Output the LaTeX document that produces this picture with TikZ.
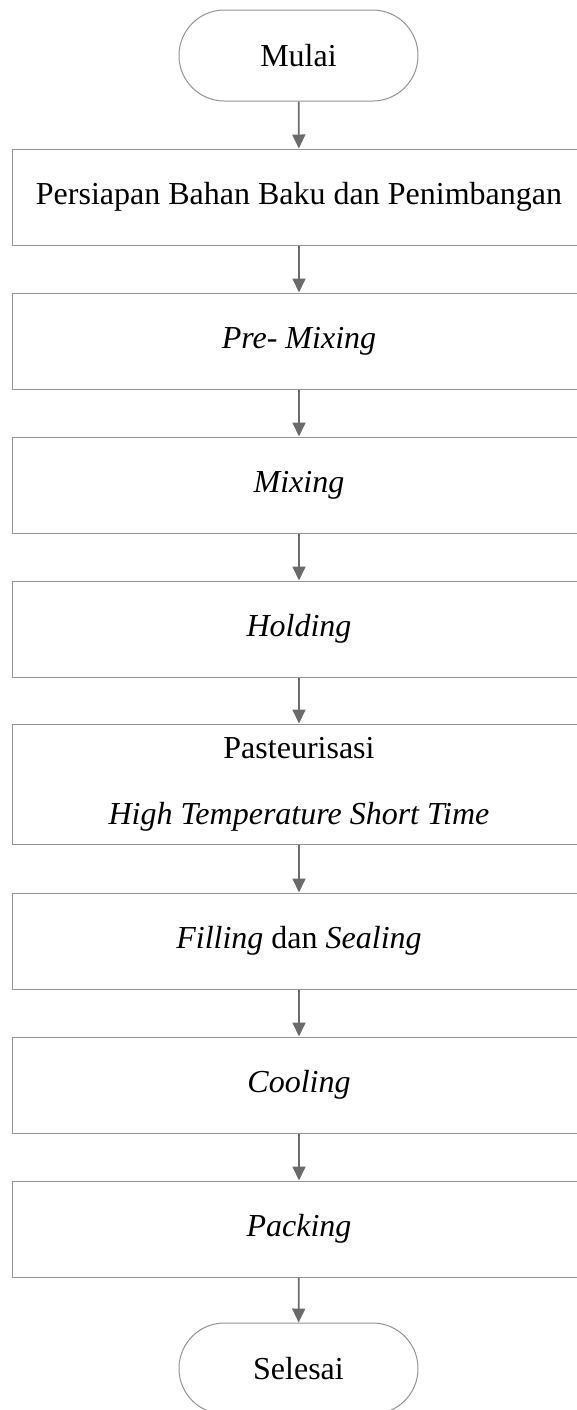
\documentclass[tikz,border=0pt]{standalone}
\usepackage{fontspec}
\setmainfont{Liberation Serif}
\usepackage{tikz}
\usetikzlibrary{arrows.meta,positioning}

\begin{document}
\begin{tikzpicture}[x=0.5pt, y=-0.5pt,
    box/.style={draw=gray!85, rectangle, minimum width=286.5pt, minimum height=48pt, font=\fontsize{16}{19}\selectfont, line width=0.5pt, align=center},
    term/.style={draw=gray!85, rounded corners=22.7pt, minimum width=119.5pt, minimum height=45.5pt, font=\fontsize{16}{19}\selectfont, line width=0.5pt},
    arrow/.style={-{Triangle[width=6.5pt,length=7pt]}, line width=0.9pt, color=black!58}]

    % picture frame, px-like units: 577 x 1410
    \useasboundingbox (0,0) rectangle (577,1410);

    \node[term] (mulai) at (298.5,55.5) {Mulai};
    \node[box] (persiapan) at (299,197) {Persiapan Bahan Baku dan Penimbangan};
    \node[box] (premix) at (299,341) {\textit{Pre- Mixing}};
    \node[box] (mixing) at (299,485) {\textit{Mixing}};
    \node[box] (holding) at (299,629) {\textit{Holding}};
    \node[box, minimum height=60pt, inner ysep=2pt] (pasteur) at (299,784) {Pasteurisasi\\[14pt]\textit{High Temperature Short Time}};
    \node[box] (filling) at (299,941) {\textit{Filling} dan \textit{Sealing}};
    \node[box] (cooling) at (299,1085) {\textit{Cooling}};
    \node[box] (packing) at (299,1229) {\textit{Packing}};
    \node[term] (selesai) at (298.5,1368.5) {Selesai};

    \draw[arrow] (mulai) -- (persiapan);
    \draw[arrow] (persiapan) -- (premix);
    \draw[arrow] (premix) -- (mixing);
    \draw[arrow] (mixing) -- (holding);
    \draw[arrow] (holding) -- (pasteur);
    \draw[arrow] (pasteur) -- (filling);
    \draw[arrow] (filling) -- (cooling);
    \draw[arrow] (cooling) -- (packing);
    \draw[arrow] (packing) -- (selesai);
\end{tikzpicture}
\end{document}
